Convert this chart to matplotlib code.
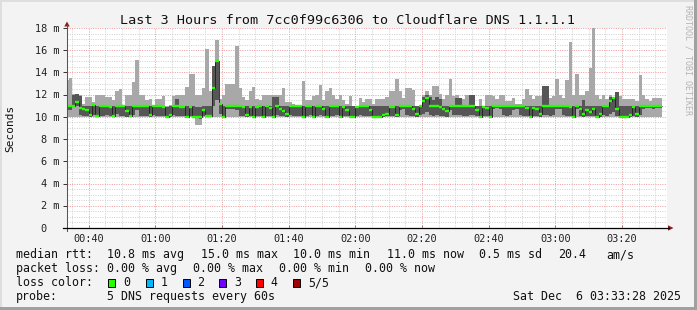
import numpy as np
import matplotlib
matplotlib.use("Agg")
import matplotlib.pyplot as plt
import matplotlib.transforms as mtransforms
from matplotlib.lines import Line2D
from matplotlib.patches import Polygon, Rectangle
from matplotlib.ticker import MultipleLocator

W, H = 697, 310
MONO = "DejaVu Sans Mono"

# one sample per minute (5 DNS probes), first sample covers 00:33-00:34
first_minute = 33
window = (33 + 28 / 60, 213 + 28 / 60)   # 00:33:28 .. 03:33:28

# values in ms, sorted probes: min / 2nd / median / 4th / max
rtt_min = [
    10.0, 10.0, 10.0, 10.0, 10.0, 10.0, 10.0, 10.0, 10.0, 10.0,
    10.0, 10.0, 10.0, 10.0, 10.0, 10.0, 10.0, 10.0, 10.0, 10.0,
    10.0, 10.0, 10.0, 10.0, 10.0, 10.0, 10.0, 10.0, 10.0, 10.0,
    10.0, 10.0, 10.0, 10.0, 10.0, 10.0, 10.0, 10.0, 10.0, 9.3,
    9.3, 10.0, 10.0, 10.0, 10.0, 10.0, 10.0, 10.0, 10.0, 10.0,
    10.0, 10.0, 10.0, 10.0, 10.0, 10.0, 10.0, 10.0, 10.0, 10.0,
    10.0, 10.0, 10.0, 10.0, 10.0, 10.0, 10.0, 10.0, 10.0, 10.0,
    10.0, 10.0, 10.0, 10.0, 10.0, 10.0, 10.0, 10.0, 10.0, 10.0,
    10.0, 10.0, 10.0, 10.0, 10.0, 10.0, 10.0, 10.0, 10.0, 10.0,
    10.0, 10.0, 10.0, 10.0, 10.0, 10.0, 10.0, 10.0, 10.0, 10.0,
    10.0, 10.0, 10.0, 10.0, 10.0, 10.0, 10.0, 10.0, 10.0, 10.0,
    10.0, 10.0, 10.0, 10.0, 10.0, 10.0, 10.0, 10.0, 10.0, 10.0,
    10.0, 10.0, 10.0, 10.0, 10.0, 10.0, 10.0, 10.0, 10.0, 10.0,
    10.0, 10.0, 10.0, 10.0, 10.0, 10.0, 10.0, 10.0, 10.0, 10.0,
    10.0, 10.0, 10.0, 10.0, 10.0, 10.0, 10.0, 10.0, 10.0, 10.0,
    10.0, 10.0, 10.0, 10.0, 10.0, 10.0, 10.0, 10.0, 10.0, 10.0,
    10.0, 10.0, 10.0, 10.0, 10.0, 10.0, 10.0, 10.0, 10.0, 10.0,
    10.0, 10.0, 10.0, 10.0, 10.0, 10.0, 10.0, 10.0, 10.0,
]
rtt_p2 = [
    10.6, 10.6, 10.9, 11.0, 10.2, 10.1, 10.1, 10.0, 10.2, 10.0,
    10.1, 10.1, 10.2, 10.1, 10.0, 10.3, 10.1, 10.1, 10.0, 10.0,
    10.2, 10.6, 10.1, 10.1, 10.1, 10.0, 10.2, 10.1, 10.1, 10.1,
    10.0, 10.0, 10.2, 10.1, 10.1, 10.1, 10.0, 10.1, 10.0, 9.9,
    9.8, 10.1, 10.0, 10.0, 11.0, 11.5, 10.3, 10.0, 10.7, 10.7,
    10.7, 10.6, 10.1, 10.1, 10.0, 10.1, 10.0, 10.1, 10.1, 10.0,
    10.1, 10.1, 10.0, 10.2, 10.1, 10.1, 10.0, 10.2, 10.1, 10.1,
    10.1, 10.0, 10.1, 10.2, 10.0, 10.1, 10.2, 10.1, 10.0, 10.1,
    10.1, 10.2, 10.0, 10.1, 10.1, 10.0, 10.0, 10.1, 10.2, 10.1,
    10.1, 10.1, 10.0, 10.0, 10.0, 10.0, 10.1, 10.1, 10.1, 10.0,
    10.6, 10.7, 10.2, 10.1, 10.1, 10.0, 10.2, 10.3, 10.4, 10.2,
    10.1, 10.2, 10.1, 10.1, 10.0, 10.6, 10.2, 10.2, 10.2, 10.1,
    10.1, 10.2, 10.2, 10.1, 10.0, 10.1, 10.1, 10.0, 10.7, 10.8,
    10.7, 10.2, 10.1, 10.2, 10.6, 10.7, 10.2, 10.1, 10.1, 10.0,
    10.1, 10.1, 10.0, 10.2, 10.2, 10.1, 10.2, 10.7, 10.7, 10.2,
    10.1, 10.1, 10.0, 10.7, 10.1, 10.0, 10.1, 10.1, 10.1, 10.0,
    10.0, 10.2, 10.1, 10.3, 10.4, 10.1, 10.0, 10.0, 10.0, 10.0,
    10.1, 10.0, 10.2, 10.7, 10.8, 10.8, 10.7, 10.8, 10.8,
]
rtt_median = [
    11.0, 11.0, 11.0, 11.3, 10.8, 10.7, 10.6, 10.2, 11.1, 10.1,
    11.0, 11.0, 11.0, 10.9, 10.1, 11.0, 11.0, 11.0, 10.5, 10.1,
    11.0, 11.0, 11.0, 11.0, 11.0, 10.2, 11.0, 11.0, 11.0, 10.9,
    10.0, 10.2, 11.0, 11.0, 10.9, 10.9, 10.0, 10.9, 10.0, 10.0,
    10.0, 10.6, 10.1, 10.1, 12.6, 15.0, 11.2, 10.0, 11.0, 11.0,
    11.0, 11.0, 11.0, 10.9, 10.2, 10.9, 10.0, 10.9, 11.0, 10.0,
    11.0, 10.8, 10.0, 11.0, 10.7, 10.5, 10.3, 11.0, 11.0, 11.0,
    11.0, 10.0, 11.0, 11.0, 10.0, 11.0, 11.0, 10.7, 10.0, 11.0,
    11.0, 11.0, 10.0, 10.9, 10.6, 10.0, 10.0, 10.9, 11.0, 11.0,
    11.0, 10.6, 10.0, 10.0, 10.0, 10.2, 10.3, 10.9, 10.9, 10.2,
    11.0, 11.0, 11.0, 11.0, 10.7, 10.3, 11.0, 11.4, 11.7, 11.0,
    11.0, 11.0, 10.9, 10.7, 10.5, 11.0, 11.0, 11.0, 11.0, 11.0,
    11.0, 11.0, 11.0, 10.6, 10.0, 10.9, 10.8, 10.0, 11.0, 11.0,
    11.0, 11.0, 11.0, 11.0, 11.0, 11.0, 11.0, 11.0, 10.8, 10.0,
    10.8, 10.7, 10.3, 11.0, 11.0, 11.0, 11.0, 11.0, 11.0, 11.0,
    11.0, 10.9, 10.0, 11.0, 10.7, 10.3, 10.6, 10.4, 10.7, 10.0,
    10.3, 11.0, 11.0, 11.4, 11.7, 10.7, 10.0, 10.0, 10.0, 10.2,
    10.9, 10.3, 11.0, 11.0, 11.0, 11.0, 11.0, 11.0, 11.0,
]
rtt_p4 = [
    11.0, 11.0, 12.0, 12.1, 11.9, 11.0, 11.0, 11.0, 11.1, 11.0,
    11.0, 11.0, 11.0, 11.0, 11.0, 11.0, 11.0, 11.0, 11.0, 11.0,
    11.0, 11.0, 11.0, 11.0, 11.0, 11.0, 11.0, 11.0, 11.0, 11.0,
    10.9, 11.0, 11.0, 11.6, 11.0, 11.0, 11.0, 11.0, 11.0, 10.9,
    10.9, 11.0, 11.0, 11.0, 14.6, 15.0, 11.2, 11.0, 11.0, 11.0,
    11.0, 11.0, 11.0, 11.0, 11.0, 11.0, 11.0, 11.0, 11.0, 11.0,
    11.0, 11.0, 11.8, 11.8, 11.0, 11.0, 11.0, 11.0, 11.0, 11.0,
    11.0, 11.0, 11.0, 11.0, 11.0, 11.0, 11.0, 11.0, 11.0, 11.0,
    11.0, 11.0, 11.0, 11.0, 11.0, 11.0, 11.0, 11.0, 11.0, 11.0,
    11.0, 11.0, 11.0, 11.0, 11.0, 11.0, 11.0, 11.0, 11.0, 11.0,
    11.0, 11.0, 11.0, 11.0, 11.0, 11.0, 11.0, 11.8, 12.0, 11.8,
    11.5, 11.8, 11.6, 11.0, 11.0, 11.0, 11.0, 11.7, 11.7, 11.0,
    11.0, 12.0, 12.0, 11.0, 11.0, 11.0, 11.0, 11.0, 11.0, 11.0,
    11.0, 11.0, 11.0, 11.0, 11.0, 11.0, 11.0, 11.0, 11.0, 11.0,
    11.0, 11.0, 11.0, 12.8, 12.8, 11.0, 11.0, 11.0, 11.0, 11.0,
    11.0, 11.0, 11.0, 11.0, 11.0, 11.5, 11.0, 11.0, 11.0, 11.0,
    11.0, 11.0, 11.0, 11.8, 11.8, 12.2, 11.0, 11.0, 11.0, 11.0,
    11.0, 11.0, 11.0, 11.0, 11.0, 11.0, 11.0, 11.0, 11.0,
]
rtt_max = [
    13.3, 13.5, 12.1, 12.1, 12.0, 11.2, 11.8, 11.8, 11.3, 12.0,
    12.0, 12.0, 11.8, 11.8, 11.5, 12.3, 12.5, 11.0, 12.0, 12.0,
    13.1, 15.1, 12.0, 12.0, 11.5, 11.6, 11.0, 11.6, 11.6, 11.9,
    11.0, 11.1, 11.9, 12.0, 12.0, 12.0, 12.7, 13.9, 13.9, 12.0,
    12.0, 12.6, 16.1, 12.3, 14.6, 16.9, 11.6, 12.0, 13.0, 13.0,
    13.0, 16.4, 12.6, 11.8, 11.5, 12.3, 12.7, 11.6, 11.5, 12.0,
    12.0, 12.0, 12.0, 12.0, 12.0, 12.6, 11.3, 11.3, 11.2, 11.0,
    11.0, 13.2, 11.5, 11.5, 11.9, 12.0, 12.9, 11.5, 12.3, 12.6,
    12.0, 11.6, 12.0, 11.5, 11.2, 11.9, 11.0, 11.0, 11.7, 11.3,
    11.6, 11.6, 11.2, 11.6, 11.6, 11.6, 11.8, 12.3, 12.3, 13.4,
    12.3, 11.7, 12.6, 12.6, 12.4, 11.0, 11.0, 12.0, 12.3, 12.0,
    12.8, 12.8, 12.1, 11.6, 12.0, 13.4, 11.9, 12.0, 11.7, 11.6,
    12.0, 12.0, 12.0, 11.0, 11.6, 11.0, 12.0, 12.0, 11.9, 11.6,
    12.0, 12.0, 11.4, 11.4, 11.7, 11.2, 11.2, 11.6, 12.5, 12.0,
    11.6, 11.9, 11.9, 12.8, 12.8, 11.7, 11.9, 13.4, 12.0, 11.7,
    13.3, 16.7, 12.0, 13.9, 12.0, 12.0, 12.3, 14.4, 18.0, 12.0,
    11.6, 12.0, 11.6, 12.0, 11.8, 12.2, 11.9, 11.6, 11.6, 11.6,
    11.6, 11.4, 13.8, 12.0, 11.6, 11.4, 11.7, 11.7, 11.7,
]

hour_ticks = [40, 60, 80, 100, 120, 140, 160, 180, 200]
hour_labels = ["00:40", "01:00", "01:20", "01:40", "02:00",
               "02:20", "02:40", "03:00", "03:20"]
y_ticks = [0, 2, 4, 6, 8, 10, 12, 14, 16, 18]
y_labels = ["0", "2 m", "4 m", "6 m", "8 m", "10 m", "12 m", "14 m", "16 m", "18 m"]

loss_names = ["0", "1", "2", "3", "4", "5/5"]
loss_colors = ["#26ff00", "#00b8ff", "#0059ff", "#7200ff", "#ff0000", "#a00000"]

title = "Last 3 Hours from 7cc0f99c6306 to Cloudflare DNS 1.1.1.1"


def px(x, y):
    # pixel position (from top-left) -> figure fraction
    return (x / W, 1 - y / H)


fig = plt.figure(figsize=(W / 100, H / 100), dpi=100, facecolor="#f3f3f3")
ax = fig.add_axes([67 / W, 1 - 228 / H, 600 / W, 200 / H])
ax.set_facecolor("white")
ax.set_xlim(*window)
ax.set_ylim(0, 18)
for s in ax.spines.values():
    s.set_visible(False)

ax.set_xticks(hour_ticks)
ax.xaxis.set_minor_locator(MultipleLocator(5))
ax.set_yticks(y_ticks)
ax.yaxis.set_minor_locator(MultipleLocator(0.5))
ax.grid(which="minor", color="#cfcfcf", lw=0.7, ls=(0, (1, 1.4)))
ax.grid(which="major", color="#ec9a9a", lw=0.7, ls=(0, (1, 1.4)))
ax.set_axisbelow(True)
ax.tick_params(labelleft=False, labelbottom=False)
ax.tick_params(axis="x", which="major", direction="in", length=2.5, width=0.7, color="#d06a6a")
ax.tick_params(axis="y", which="major", direction="out", length=3, width=0.7, color="#333333")
ax.tick_params(which="minor", length=0)

# smoke + median
edges = first_minute + np.arange(len(rtt_median) + 1)
ax.stairs(rtt_max, edges, baseline=rtt_min, fill=True, color="#a8a8a8", lw=0, zorder=2)
ax.stairs(rtt_p4, edges, baseline=rtt_p2, fill=True, color="#565656", lw=0, zorder=3)
ax.stairs(rtt_median, edges, baseline=None, color="#1c1c1c", lw=0.6, zorder=4)
ax.hlines(rtt_median, edges[:-1], edges[1:], color=loss_colors[0], lw=1.7, zorder=5)

# axis labels
ytr = mtransforms.offset_copy(ax.get_yaxis_transform(), fig=fig, x=-7.7, y=-3.7, units="dots")
ytr0 = mtransforms.offset_copy(ax.get_yaxis_transform(), fig=fig, x=-20.1, y=-3.7, units="dots")
for v, lab in zip(y_ticks, y_labels):
    ax.text(0, v, lab, transform=ytr0 if lab == "0" else ytr, ha="right", va="baseline",
            fontsize=7.4, family=MONO, color="#222222")
xtr = mtransforms.offset_copy(ax.get_xaxis_transform(), fig=fig, y=-13.5, units="dots")
for t, lab in zip(hour_ticks, hour_labels):
    ax.text(t, 0, lab, transform=xtr, ha="center", va="baseline",
            fontsize=7.4, family=MONO, color="#222222")

# axis lines and arrows
fig.add_artist(Line2D(*zip(px(67, 231), px(67, 25)), transform=fig.transFigure,
                      color="#555555", lw=0.75))
fig.add_artist(Line2D(*zip(px(63, 228), px(669, 228)), transform=fig.transFigure,
                      color="black", lw=0.9))
fig.add_artist(Polygon([px(64.3, 26.5), px(69.7, 26.5), px(67, 21.5)], closed=True,
                       transform=fig.transFigure, color="#8e1c1c", lw=0))
fig.add_artist(Polygon([px(668, 225.3), px(668, 230.7), px(673.5, 228)], closed=True,
                       transform=fig.transFigure, color="#8e1c1c", lw=0))

# title, unit label, watermark
fig.text(*px(347, 24), title, ha="center", va="baseline", fontsize=9.7, family=MONO, color="#111111")
fig.text(*px(10.5, 128), "Seconds", rotation=90, ha="center", va="center",
         fontsize=8, family=MONO, color="#111111")
fig.text(*px(688, 60), "RRDTOOL / TOBI OETIKER", rotation=-90, ha="center", va="center",
         fontsize=6, family=MONO, color="#b4b4b4")

# legend block
LEG = dict(fontsize=8.4, family=MONO, color="#111111", va="baseline", ha="left")
rows = [
    (258, [(16, "median rtt:"), (107.3, "10.8 ms avg"), (200.7, "15.0 ms max"),
           (293, "10.0 ms min"), (386.7, "11.0 ms now"), (479.3, "0.5 ms sd"),
           (558.3, "20.4"), (606.7, "am/s")]),
    (272, [(16, "packet loss:"), (107.3, "0.00 % avg"), (193.3, "0.00 % max"),
           (279.3, "0.00 % min"), (365, "0.00 % now")]),
    (286, [(16, "loss color:")]),
    (300, [(16, "probe:"), (107.3, "5 DNS requests every 60s"),
           (513.3, "Sat Dec  6 03:33:28 2025")]),
]
for y, items in rows:
    for x, s in items:
        fig.text(*px(x, y), s, **LEG)

sq_x = [108.3, 145.7, 182.7, 219.3, 256, 293.3]
for x, name, c in zip(sq_x, loss_names, loss_colors):
    fig.add_artist(Rectangle(px(x, 286.5), 7 / W, 8 / H, transform=fig.transFigure,
                             facecolor=c, edgecolor="black", lw=0.7))
    fig.text(*px(x + 14.5, 286), name, **LEG)

# 3d-ish frame of the canvas
fig.add_artist(Rectangle((0, 1 - 2 / H), 1, 2 / H, transform=fig.transFigure, color="#dedede", lw=0))
fig.add_artist(Rectangle((0, 0), 2 / W, 1, transform=fig.transFigure, color="#dedede", lw=0))
fig.add_artist(Rectangle((0, 0), 1, 3 / H, transform=fig.transFigure, color="#a0a0a0", lw=0))
fig.add_artist(Rectangle((1 - 3 / W, 0), 3 / W, 1, transform=fig.transFigure, color="#a0a0a0", lw=0))

fig.savefig("out.png", dpi=100, facecolor=fig.get_facecolor())
